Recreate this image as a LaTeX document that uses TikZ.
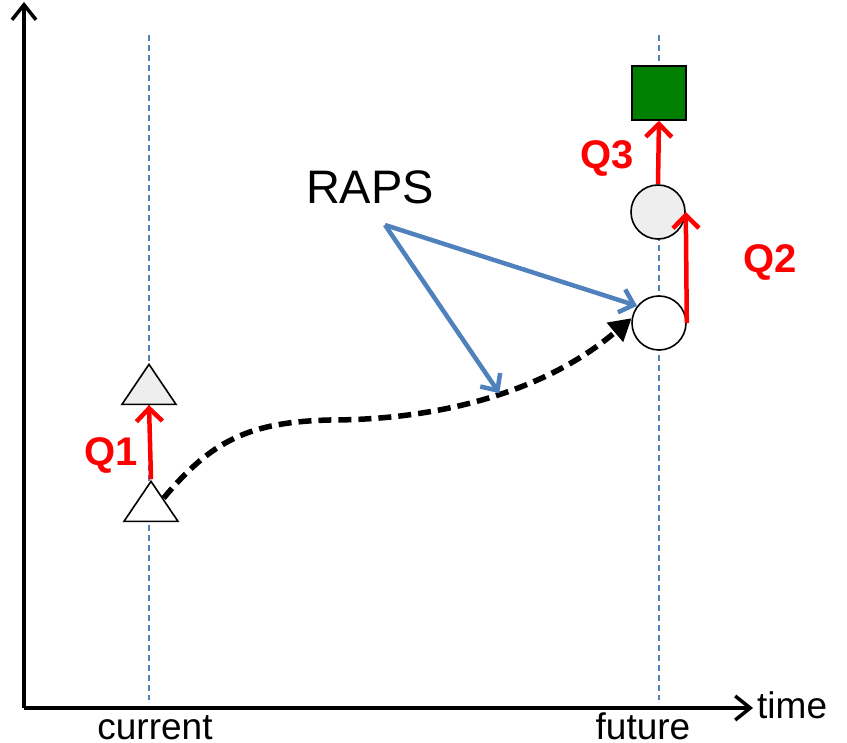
\documentclass[tikz,border=0pt]{standalone}
\usepackage{fontspec}
\setmainfont{Liberation Sans}
\usetikzlibrary{arrows.meta,shapes.geometric}
\definecolor{rapsblue}{HTML}{4F81BD}
\definecolor{sqgreen}{HTML}{007F00}
\definecolor{lgray}{HTML}{EEEEEE}
\begin{document}
\begin{tikzpicture}[x=1pt,y=-1pt,
  axis/.style={line width=3.5pt,-{Straight Barb[length=15pt,width=24pt,line width=3.5pt]}},
  guide/.style={rapsblue,line width=1.3pt,dash pattern=on 6pt off 4pt},
  tri/.style={draw,line width=1.6pt,isosceles triangle,isosceles triangle stretches,shape border rotate=90,minimum width=54pt,minimum height=40pt,inner sep=0pt},
  circ/.style={draw,line width=1.6pt,circle,minimum size=54pt,inner sep=0pt},
  qarrow/.style={red,line width=4.5pt,-{Straight Barb[length=13pt,width=26pt,line width=4.5pt]}},
  barrow/.style={rapsblue,line width=4.5pt,-{Straight Barb[length=13pt,width=24pt,line width=4.5pt]}},
  dcurve/.style={line width=5.5pt,dash pattern=on 13pt off 7pt,-{Triangle[length=22pt,width=24pt]}},
  qlabel/.style={red,font=\fontsize{40}{42}\selectfont\bfseries},
  axlabel/.style={font=\fontsize{37}{39}\selectfont,inner sep=0pt}]
\useasboundingbox (0,0) rectangle (847,743);
% guides
\coordinate (g1a) at (149,35); \coordinate (g1b) at (149,700);
\coordinate (g2a) at (659,35); \coordinate (g2b) at (659,700);
\draw[guide] (g1a) -- (g1b);
\draw[guide] (g2a) -- (g2b);
% axes
\coordinate (o) at (24,708);
\coordinate (ytop) at (24,2);
\coordinate (xend) at (753,708);
\draw[axis] (o) -- (ytop);
\draw[axis] (o) -- (xend);
\node[axlabel,anchor=west] (time) at (757,705) {time};
\node[axlabel,anchor=base] (cur) at (155,739) {current};
\node[axlabel,anchor=base] (fut) at (643,739) {future};
% shapes
\node[tri,fill=lgray] (t2) at (149,390) {};
\node[tri,fill=white] (t1) at (151,507) {};
\node[circ,fill=white] (c1) at (659,323) {};
\node[circ,fill=lgray] (c2) at (658,212) {};
\node[draw,line width=1.6pt,fill=sqgreen,minimum size=54pt,inner sep=0pt] (sq) at (659,93) {};
% red arrows
\draw[qarrow] (t1.apex) -- (t2.south);
\draw[qarrow] (c1.east) -- (c2.east);
\draw[qarrow] (c2.north) -- (sq.south);
\node[qlabel] (q1) at (111,455) {Q1};
\node[qlabel] (q2) at (770,262) {Q2};
\node[qlabel] (q3) at (607,158) {Q3};
% dashed curve
\draw[dcurve] (t1.35) .. controls (212,440) and (250,422) .. (330,420)
   .. controls (430,420) and (540,396) .. (c1.170) coordinate[pos=0.55] (k);
% RAPS
\node[font=\fontsize{47}{50}\selectfont] (raps) at (370,187) {RAPS};
\coordinate (r) at (385,225);
\draw[barrow] (r) -- (c1.142);
\draw[barrow] (r) -- (k);
\end{tikzpicture}
\end{document}
